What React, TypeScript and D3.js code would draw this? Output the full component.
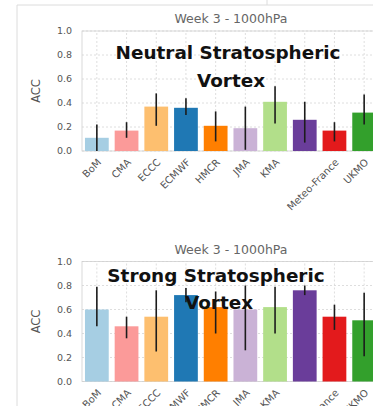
import React from "react";
import * as d3 from "d3";

// Week-3 ACC scores at 1000 hPa per S2S model, for two vortex regimes
const tickLabels = ["BoM", "CMA", "ECCC", "ECMWF", "HMCR", "JMA", "KMA", "", "Meteo-France", "UKMO"];
const barColors = ["#a6cee3", "#fb9a99", "#fdbf6f", "#1f78b4", "#ff7f00", "#cab2d6", "#b2df8a", "#6a3d9a", "#e31a1c", "#33a02c"];
const yTicks = [0.0, 0.2, 0.4, 0.6, 0.8, 1.0];

const neutralAcc = [0.11, 0.17, 0.37, 0.36, 0.21, 0.19, 0.41, 0.26, 0.17, 0.32];
const neutralLow = [0.0, 0.11, 0.21, 0.3, 0.08, 0.01, 0.23, 0.07, 0.08, 0.22];
const neutralHigh = [0.22, 0.24, 0.48, 0.44, 0.33, 0.37, 0.54, 0.41, 0.24, 0.47];

const strongAcc = [0.6, 0.46, 0.54, 0.72, 0.62, 0.6, 0.62, 0.76, 0.54, 0.51];
const strongLow = [0.46, 0.36, 0.25, 0.66, 0.4, 0.26, 0.4, 0.72, 0.43, 0.21];
const strongHigh = [0.79, 0.54, 0.76, 0.78, 0.75, 0.8, 0.79, 0.8, 0.64, 0.74];

const W = 373;
const H = 406;
const FONT = "DejaVu Sans, sans-serif";

type PanelProps = {
  top: number;
  title: string;
  regime: string[];
  regimeX: number;
  regimeY: number;
  acc: number[];
  low: number[];
  high: number[];
};

const x = d3
  .scaleBand<number>()
  .domain(d3.range(tickLabels.length))
  .range([82, 379])
  .paddingInner(0.2)
  .paddingOuter(0.1);

function Panel({ top, title, regime, regimeX, regimeY, acc, low, high }: PanelProps) {
  const y = d3.scaleLinear().domain([0, 1]).range([top + 120, top]);
  const [x0, x1] = x.range();
  const bw = x.bandwidth();
  return (
    <g>
      {/* grid */}
      {yTicks.map((t) => (
        <line key={"gy" + t} x1={x0} x2={x1} y1={y(t)} y2={y(t)} stroke="#d6d6d6" strokeWidth={0.8} strokeDasharray="2,2" />
      ))}
      {x.domain().map((i) => (
        <line key={"gx" + i} x1={x(i)! + bw / 2} x2={x(i)! + bw / 2} y1={y(0)} y2={y(1)} stroke="#d6d6d6" strokeWidth={0.8} strokeDasharray="2,2" />
      ))}
      <rect x={x0} y={y(1)} width={x1 - x0} height={y(0) - y(1)} fill="none" stroke="#d0d0d0" strokeWidth={0.8} />
      {/* bars */}
      {acc.map((v, i) => (
        <rect key={"b" + i} x={x(i)!} y={y(v)} width={bw} height={y(0) - y(v)} fill={barColors[i]} />
      ))}
      {/* error bars */}
      {acc.map((_, i) => (
        <line key={"e" + i} x1={x(i)! + bw / 2} x2={x(i)! + bw / 2} y1={y(low[i])} y2={y(high[i])} stroke="#1c1c1c" strokeWidth={1.6} />
      ))}
      {/* y axis */}
      {yTicks.map((t) => (
        <text key={"ty" + t} x={x0 - 10} y={y(t)} dy="0.35em" textAnchor="end" fontSize={9.5} fill="#555" fontFamily={FONT}>
          {t.toFixed(1)}
        </text>
      ))}
      <text transform={`translate(40,${y(0.5)}) rotate(-90)`} textAnchor="middle" fontSize={11.5} fill="#555" fontFamily={FONT}>
        ACC
      </text>
      {/* x tick labels */}
      {tickLabels.map((lab, i) => (
        <text
          key={"tx" + i}
          transform={`translate(${x(i)! + bw / 2 + 5},${y(0) + 12}) rotate(-45)`}
          textAnchor="end"
          fontSize={10}
          fill="#555"
          fontFamily={FONT}
        >
          {lab}
        </text>
      ))}
      {/* titles */}
      <text x={231} y={top - 8} textAnchor="middle" fontSize={12.5} fill="#666" fontFamily={FONT}>
        {title}
      </text>
      {regime.map((line, k) => (
        <text key={"r" + k} x={regimeX + k * 3} y={top + regimeY + k * 27.5} textAnchor="middle" fontSize={18.4} fontWeight="bold" fill="#111" fontFamily={FONT}>
          {line}
        </text>
      ))}
    </g>
  );
}

export default function App() {
  return (
    <svg width={W} height={H} style={{ position: "absolute", left: 0, top: 0, background: "#fff" }}>
      <rect width={W} height={H} fill="#fff" />
      {/* surrounding figure frame */}
      <line x1={17} x2={17} y1={5} y2={H} stroke="#dcdcdc" strokeWidth={1} />
      <line x1={17} x2={W} y1={5} y2={5} stroke="#dcdcdc" strokeWidth={1} />
      <line x1={267} x2={267} y1={0} y2={5} stroke="#dcdcdc" strokeWidth={1} />
      <Panel
        top={31}
        title="Week 3 - 1000hPa"
        regime={["Neutral Stratospheric", "Vortex"]}
        regimeX={228}
        regimeY={28}
        acc={neutralAcc}
        low={neutralLow}
        high={neutralHigh}
      />
      <Panel
        top={261.5}
        title="Week 3 - 1000hPa"
        regime={["Strong Stratospheric", "Vortex"]}
        regimeX={216}
        regimeY={20}
        acc={strongAcc}
        low={strongLow}
        high={strongHigh}
      />
    </svg>
  );
}
